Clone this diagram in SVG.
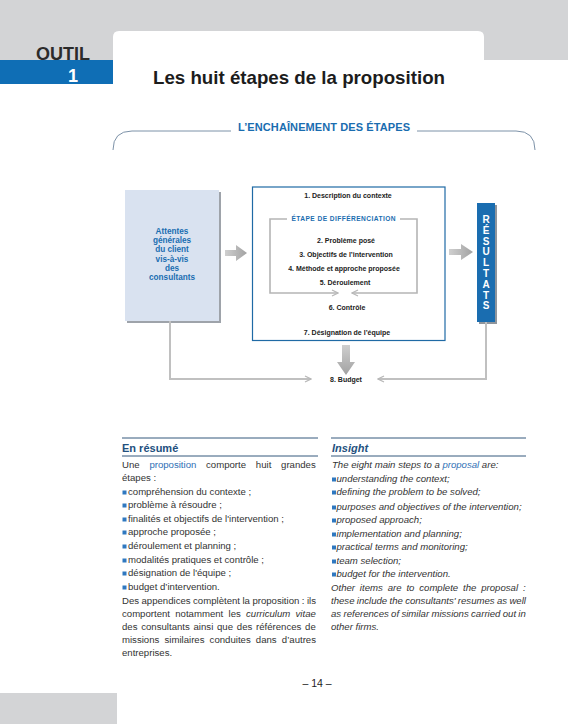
<svg xmlns="http://www.w3.org/2000/svg" width="568" height="724" viewBox="0 0 568 724">
<defs>
<style>
.f{font-family:"Liberation Sans",Arial,sans-serif}
.bx{font-family:"Liberation Sans",Arial,sans-serif;font-weight:bold;font-size:7px;fill:#222;text-anchor:middle}
.lb{font-family:"Liberation Sans",Arial,sans-serif;font-weight:bold;font-size:8.2px;fill:#1a6db0;text-anchor:middle}
.rs{font-family:"Liberation Sans",Arial,sans-serif;font-weight:bold;font-size:10px;fill:#fff;text-anchor:middle}
.bd{font-family:"Liberation Sans",Arial,sans-serif;font-size:9.6px;fill:#333}
.it{font-family:"Liberation Sans",Arial,sans-serif;font-size:9.6px;fill:#333;font-style:italic}
.blu{fill:#2f6fb5}
.hd{font-family:"Liberation Sans",Arial,sans-serif;font-weight:bold;font-size:11px;fill:#23507e}
.rule{stroke:#35587c;stroke-width:1}
.bul{fill:#2f78c0}
.con{fill:none;stroke:#c0c0c0;stroke-width:2}
.brk{fill:none;stroke:#b5b5b5;stroke-width:1.6}
</style>
<marker id="chev" viewBox="0 0 8 8" refX="7" refY="4" markerWidth="8" markerHeight="8" markerUnits="userSpaceOnUse" orient="auto">
<path d="M1,1 L7,4 L1,7" fill="none" stroke="#b8b8b8" stroke-width="1.3"/>
</marker>
<linearGradient id="gH" x1="0" y1="0" x2="1" y2="0"><stop offset="0" stop-color="#cfcfcf"/><stop offset="1" stop-color="#a2a2a2"/></linearGradient>
<linearGradient id="gV" x1="0" y1="0" x2="0" y2="1"><stop offset="0" stop-color="#cfcfcf"/><stop offset="1" stop-color="#a2a2a2"/></linearGradient>
</defs>

<!-- page header -->
<g id="header">
<rect x="0" y="0" width="568" height="60" fill="#d3d4d6"/>
<path d="M113,60 L113,37 Q113,31 119,31 L478,31 Q484,31 484,37 L484,60 Z" fill="#fff"/>
<rect x="0" y="60" width="113" height="24" fill="#0f6eb5"/>
<text class="f" x="36" y="60" font-size="18" font-weight="bold" fill="#2b2b2b">OUTIL</text>
<text class="f" x="68" y="82" font-size="18" font-weight="bold" fill="#fff">1</text>
<text class="f" x="153" y="84" font-size="18.5" font-weight="bold" fill="#1c1c1c" textLength="292" lengthAdjust="spacingAndGlyphs">Les huit étapes de la proposition</text>
<rect x="0" y="693" width="117" height="31" fill="#d3d4d6"/>
</g>

<g id="section-title">
<path d="M113,150 Q113,131 132,131 L231,131" fill="none" stroke="#7d92a8" stroke-width="1"/>
<path d="M417,131 L516,131 Q535,131 535,150" fill="none" stroke="#7d92a8" stroke-width="1"/>
<text class="f" x="324" y="131" font-size="11" font-weight="bold" fill="#1a6db0" text-anchor="middle" textLength="172">L’ENCHAÎNEMENT DES ÉTAPES</text>
</g>

<g id="attentes">
<rect x="127" y="192" width="94" height="131" fill="#9ea3aa"/>
<rect x="125" y="190" width="94" height="131" fill="#d9e2f0"/>
<text class="lb" x="172" y="234">Attentes</text>
<text class="lb" x="172" y="243">générales</text>
<text class="lb" x="172" y="252">du client</text>
<text class="lb" x="172" y="262">vis-à-vis</text>
<text class="lb" x="172" y="271">des</text>
<text class="lb" x="172" y="280">consultants</text>
</g>

<g id="etapes">
<rect x="252.5" y="187" width="192.5" height="153.5" fill="#fff" stroke="#1f6aa5" stroke-width="1.2"/>
<text class="bx" x="348" y="198">1. Description du contexte</text>
<text class="f" x="343.5" y="221" font-size="6.6" font-weight="bold" fill="#1a6db0" text-anchor="middle" textLength="104">ÉTAPE DE DIFFÉRENCIATION</text>
<text class="bx" x="346" y="243">2. Problème posé</text>
<text class="bx" x="346" y="257">3. Objectifs de l’intervention</text>
<text class="bx" x="344" y="271">4. Méthode et approche proposée</text>
<text class="bx" x="345" y="285">5. Déroulement</text>
<text class="bx" x="347" y="310">6. Contrôle</text>
<text class="bx" x="347" y="335">7. Désignation de l’équipe</text>
</g>

<g id="resultats">
<rect x="479" y="205" width="18" height="119" fill="#8f959c"/>
<rect x="477" y="203" width="18" height="119" fill="#1a6db0"/>
<text class="rs" x="486" y="223">R</text>
<text class="rs" x="486" y="233.8">É</text>
<text class="rs" x="486" y="244.6">S</text>
<text class="rs" x="486" y="255.4">U</text>
<text class="rs" x="486" y="266.2">L</text>
<text class="rs" x="486" y="277">T</text>
<text class="rs" x="486" y="287.8">A</text>
<text class="rs" x="486" y="298.6">T</text>
<text class="rs" x="486" y="309.4">S</text>
</g>

<g id="budget">
<text class="bx" x="346" y="382">8. Budget</text>
</g>

<g id="connectors">
<polygon points="225,250 236,250 236,245 247,253 236,261 236,256 225,256" fill="url(#gH)"/>
<polygon points="449,249 461,249 461,244 473,252 461,260 461,255 449,255" fill="url(#gH)"/>
<polygon points="342,345 350,345 350,362 355,362 346,375 337,362 342,362" fill="url(#gV)"/>
<path class="brk" d="M287,219 L270,219 L270,293 L338,293" marker-end="url(#chev)"/>
<path class="brk" d="M400,219 L417,219 L417,293 L352,293" marker-end="url(#chev)"/>
<path class="con" d="M170,321 L170,379 L311,379" marker-end="url(#chev)"/>
<path class="con" d="M486,322 L486,379 L378,379" marker-end="url(#chev)"/>
</g>

<g id="resume">
<line class="rule" x1="122" y1="438" x2="318" y2="438"/>
<text class="hd" x="122" y="452">En résumé</text>
<line class="rule" x1="122" y1="456" x2="318" y2="456"/>
<text class="bd" x="122" y="468" word-spacing="7.1">Une <tspan class="blu">proposition</tspan> comporte huit grandes</text>
<text class="bd" x="122" y="481">étapes :</text>
<rect class="bul" x="122.5" y="490.5" width="4" height="4"/><text class="bd" x="128" y="495">compréhension du contexte ;</text>
<rect class="bul" x="122.5" y="503.5" width="4" height="4"/><text class="bd" x="128" y="508">problème à résoudre ;</text>
<rect class="bul" x="122.5" y="517.5" width="4" height="4"/><text class="bd" x="128" y="522">finalités et objectifs de l'intervention ;</text>
<rect class="bul" x="122.5" y="530.5" width="4" height="4"/><text class="bd" x="128" y="535">approche proposée ;</text>
<rect class="bul" x="122.5" y="544.5" width="4" height="4"/><text class="bd" x="128" y="549">déroulement et planning ;</text>
<rect class="bul" x="122.5" y="558.5" width="4" height="4"/><text class="bd" x="128" y="563">modalités pratiques et contrôle ;</text>
<rect class="bul" x="122.5" y="571.5" width="4" height="4"/><text class="bd" x="128" y="576">désignation de l'équipe ;</text>
<rect class="bul" x="122.5" y="585.5" width="4" height="4"/><text class="bd" x="128" y="590">budget d’intervention.</text>
<text class="bd" x="122" y="604" word-spacing="-0.2">Des appendices complètent la proposition : ils</text>
<text class="bd" x="122" y="617" word-spacing="2.6">comportent notamment les <tspan font-style="italic">curriculum vitae</tspan></text>
<text class="bd" x="122" y="630" word-spacing="1.1">des consultants ainsi que des références de</text>
<text class="bd" x="122" y="643" word-spacing="2.5">missions similaires conduites dans d’autres</text>
<text class="bd" x="122" y="656">entreprises.</text>
</g>

<g id="insight">
<line class="rule" x1="331" y1="438" x2="526" y2="438"/>
<text class="hd" x="332" y="452" font-style="italic">Insight</text>
<line class="rule" x1="331" y1="456" x2="526" y2="456"/>
<text class="it" x="332" y="468">The eight main steps to a <tspan class="blu">proposal</tspan> are:</text>
<rect class="bul" x="332" y="477.5" width="4" height="4"/><text class="it" x="336.5" y="482">understanding the context;</text>
<rect class="bul" x="332" y="490.5" width="4" height="4"/><text class="it" x="336.5" y="495">defining the problem to be solved;</text>
<rect class="bul" x="332" y="505.5" width="4" height="4"/><text class="it" x="336.5" y="510">purposes and objectives of the intervention;</text>
<rect class="bul" x="332" y="518.5" width="4" height="4"/><text class="it" x="336.5" y="523">proposed approach;</text>
<rect class="bul" x="332" y="532.5" width="4" height="4"/><text class="it" x="336.5" y="537">implementation and planning;</text>
<rect class="bul" x="332" y="545.5" width="4" height="4"/><text class="it" x="336.5" y="550">practical terms and monitoring;</text>
<rect class="bul" x="332" y="559.5" width="4" height="4"/><text class="it" x="336.5" y="564">team selection;</text>
<rect class="bul" x="332" y="572.5" width="4" height="4"/><text class="it" x="336.5" y="577">budget for the intervention.</text>
<text class="it" x="331" y="591" word-spacing="2.2">Other items are to complete the proposal :</text>
<text class="it" x="331" y="604" word-spacing="-0.35">these include the consultants' resumes as well</text>
<text class="it" x="331" y="617" word-spacing="-0.35">as references of similar missions carried out in</text>
<text class="it" x="331" y="630">other firms.</text>
</g>

<g id="page-number">
<text class="f" x="317" y="687" font-size="10.5" fill="#222" text-anchor="middle">– 14 –</text>
</g>
</svg>
